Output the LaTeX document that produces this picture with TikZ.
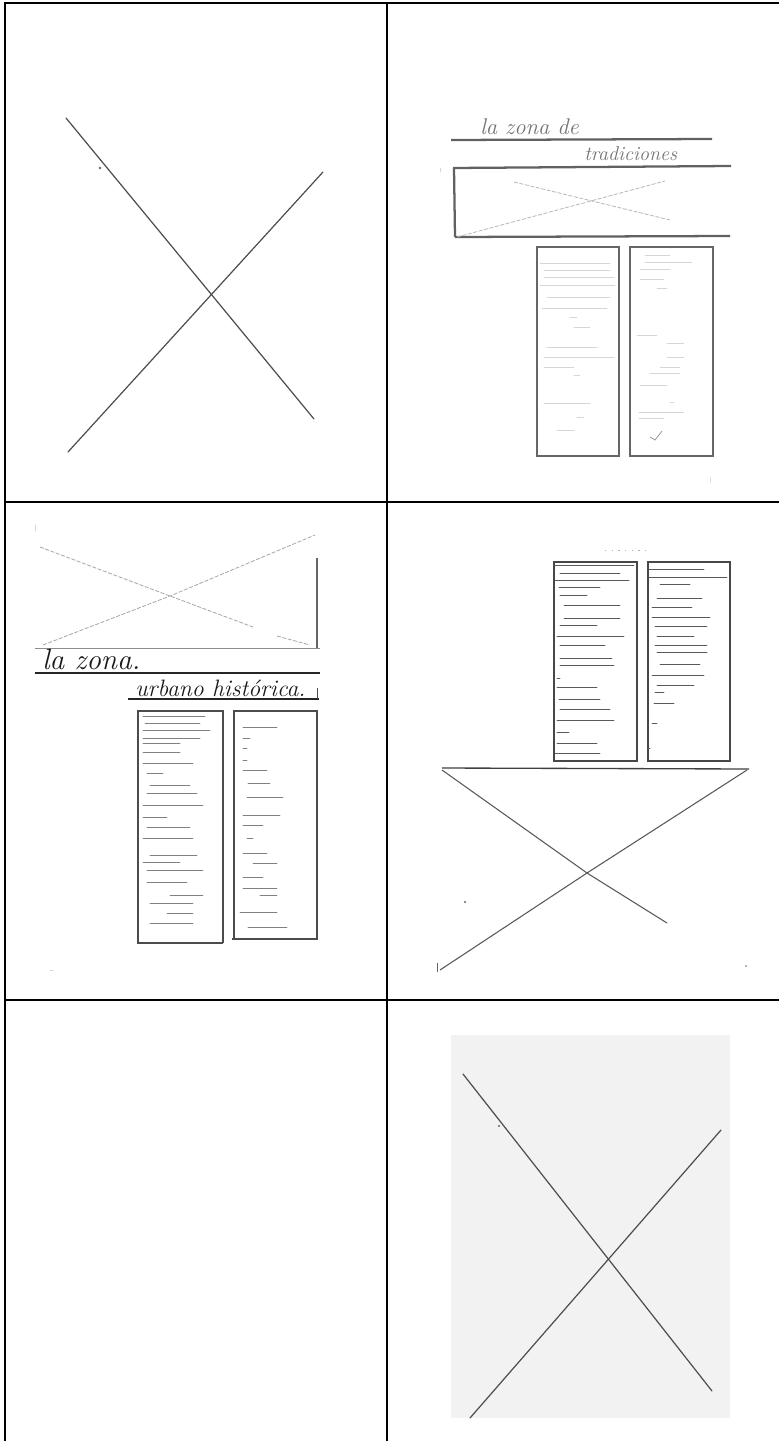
\documentclass[tikz,border=0pt]{standalone}
\usepackage{tikz}
\tikzset{
  grid/.style={line width=1.6pt, black},
  pen/.style={line width=0.9pt, black!70, line cap=round},
  heavy/.style={line width=1.7pt, black!62},
  boxline/.style={line width=1.2pt, black!72},
  faint/.style={line width=0.6pt, black!35, dash pattern=on 3pt off 1.2pt},
  scrib/.style={line width=0.7pt, black!50, line cap=round},
  pale/.style={line width=0.5pt, black!16, line cap=round},
  speck/.style={fill=black!60},
  hand/.style={inner sep=0pt, anchor=base west, font=\itshape},
}
\begin{document}
\begin{tikzpicture}[x=0.75pt,y=-0.75pt]
\useasboundingbox (0,0) rectangle (779,1441);
\fill[white] (0,0) rectangle (779,1441);

% ---------- table grid ----------
\draw[grid] (5,3) -- (779,3);
\draw[grid] (5,2.2) -- (5,1441);
\draw[grid] (387,2.2) -- (387,1441);
\draw[grid] (5,502) -- (779,502);
\draw[grid] (5,1000) -- (779,1000);

% ---------- cell 1,1 : big X ----------
\draw[pen] (66,118) -- (314,419);
\draw[pen] (68,452) -- (323,172);
\fill[speck] (100,168) circle (1.3);

% ---------- cell 1,2 ----------
\node[hand, text=black!55, font=\itshape\fontsize{17}{17}\selectfont] (t1a) at (480,135) {la zona de};
\draw[heavy] (451,140) -- (712,139);
\node[hand, text=black!55, font=\itshape\fontsize{15}{15}\selectfont] (t1b) at (584,161) {tradiciones};
\draw[heavy] (453,168) -- (731,166);
\draw[heavy] (454,168) -- (455,237);
\draw[heavy] (455,237) -- (730,236);
\draw[faint, black!28] (514,182) -- (670,220);
\draw[faint, black!28] (457,237) -- (665,181);
\draw[pale] (440,168) -- (440,172);
% two text columns
\draw[boxline, black!60] (537,247) rectangle (619,456);
\draw[boxline, black!60] (630,247) rectangle (713,456);
\foreach \y/\a/\b in {263/540/610, 270/544/610, 277/544/614, 285/540/615, 297/547/610, 308/542/607, 317/570/577, 327/574/590, 347/547/597, 357/544/614, 367/544/574, 375/574/580, 403/544/590, 417/577/584, 430/557/574}
  \draw[pale] (\a,\y) -- (\b,\y);
\foreach \y/\a/\b in {255/645/670, 262/645/692, 269/640/670, 279/640/664, 288/657/667, 335/637/657, 343/667/684, 357/667/684, 367/660/680, 373/650/680, 385/640/667, 402/670/674, 412/639/684, 418/639/664}
  \draw[pale] (\a,\y) -- (\b,\y);
\draw[line width=0.6pt, black!40] (650,437) -- (655,440) -- (662,431);
\draw[pale] (710,478) -- (710,482);

% ---------- cell 2,1 ----------
\draw[pale] (35,525) -- (35,531);
\draw[faint] (40,547) -- (170,596) -- (253,627);
\draw[faint] (277,636) -- (310,645);
\draw[faint] (43,645) -- (170,596) -- (315,535);
\draw[line width=0.8pt, black!60] (317,558) -- (317,648);
\draw[line width=0.6pt, black!45] (35,648) -- (320,648);
\node[hand, text=black!90, font=\itshape\fontsize{22}{22}\selectfont] (t2a) at (42,669) {la zona.};
\draw[line width=1.3pt, black!85] (35,673) -- (320,673);
\node[hand, text=black!90, font=\itshape\fontsize{17.8}{17.8}\selectfont] (t2b) at (135,696) {urbano histórica.};
\draw[line width=1.3pt, black!85] (128,699) -- (319,699);
\draw[line width=0.7pt, black!70] (317,688) -- (317,699);
% two text columns
\draw[line width=0.9pt, black!70] (223,943) -- (138,943) -- (138,711) -- (223,711) -- (223,943);
\draw[line width=0.9pt, black!70] (232,939) -- (317,939) -- (317,711) -- (234,711) -- (234,939);
\foreach \y/\a/\b in {716.7/143/205, 723/145/200, 730/143/210, 738/143/200, 743/143/180, 752/143/180, 763/143/193, 773/147/163, 785/150/190, 793/147/197, 805/143/203, 817/143/167, 827/147/190, 838/143/193, 855/150/197, 862/143/180, 870/147/203, 882/147/187, 895/170/203, 903/150/193, 913/167/193, 923/150/193}
  \draw[scrib] (\a,\y) -- (\b,\y);
\foreach \y/\a/\b in {727/243/277, 738/243/250, 748/243/247, 760/243/247, 770/243/267, 783/248/270, 797/247/283, 815/243/280, 825/243/263, 838/247/253, 853/243/267, 863/253/277, 877/243/263, 888/243/277, 895/260/277, 912/240/277, 927/248/287}
  \draw[scrib] (\a,\y) -- (\b,\y);
\draw[pale] (50,970) -- (53,970);

% ---------- cell 2,2 ----------
\draw[line width=0.5pt, black!30, dash pattern=on 1pt off 4pt] (605,550) -- (650,550);
\draw[boxline] (554,562) rectangle (637,761);
\draw[boxline] (648,562) rectangle (730,761);
\foreach \y/\a/\b in {565/555/634, 573/560/620, 580/555/629, 587/559/600, 595/560/587, 605/564/620, 618/564/620, 625/560/597, 636/557/624, 645/560/605, 658/560/612, 665/560/614, 678/557/560, 687/557/597, 699/559/600, 709/560/610, 720/557/614, 732/557/569, 743/557/597, 753/555/600}
  \draw[scrib, black!65] (\a,\y) -- (\b,\y);
\foreach \y/\a/\b in {569/649/704, 577/649/727, 584/660/690, 598/657/702, 607/652/692, 617/652/710, 626/655/707, 636/657/694, 645/655/707, 652/657/707, 664/660/700, 675/652/704, 685/657/694, 692/655/664, 703/654/674, 723/652/657, 748/647/650}
  \draw[scrib, black!65] (\a,\y) -- (\b,\y);
\draw[line width=1pt, black!75] (442,768) -- (749,769);
\draw[line width=0.8pt, black!65] (442,770) -- (587,873) -- (667,923);
\draw[line width=0.8pt, black!65] (440,970) -- (587,873) -- (747,770);
\draw[line width=0.7pt, black!60] (437,963) -- (437,972);
\fill[speck] (465,902) circle (1.1);
\fill[speck] (746,966) circle (0.8);

% ---------- cell 3,2 ----------
\fill[black!5] (451,1035) rectangle (730,1418);
\draw[pen] (463,1074) -- (712,1391);
\draw[pen] (470,1418) -- (721,1130);
\fill[speck] (499,1126) circle (1.1);
\end{tikzpicture}
\end{document}
